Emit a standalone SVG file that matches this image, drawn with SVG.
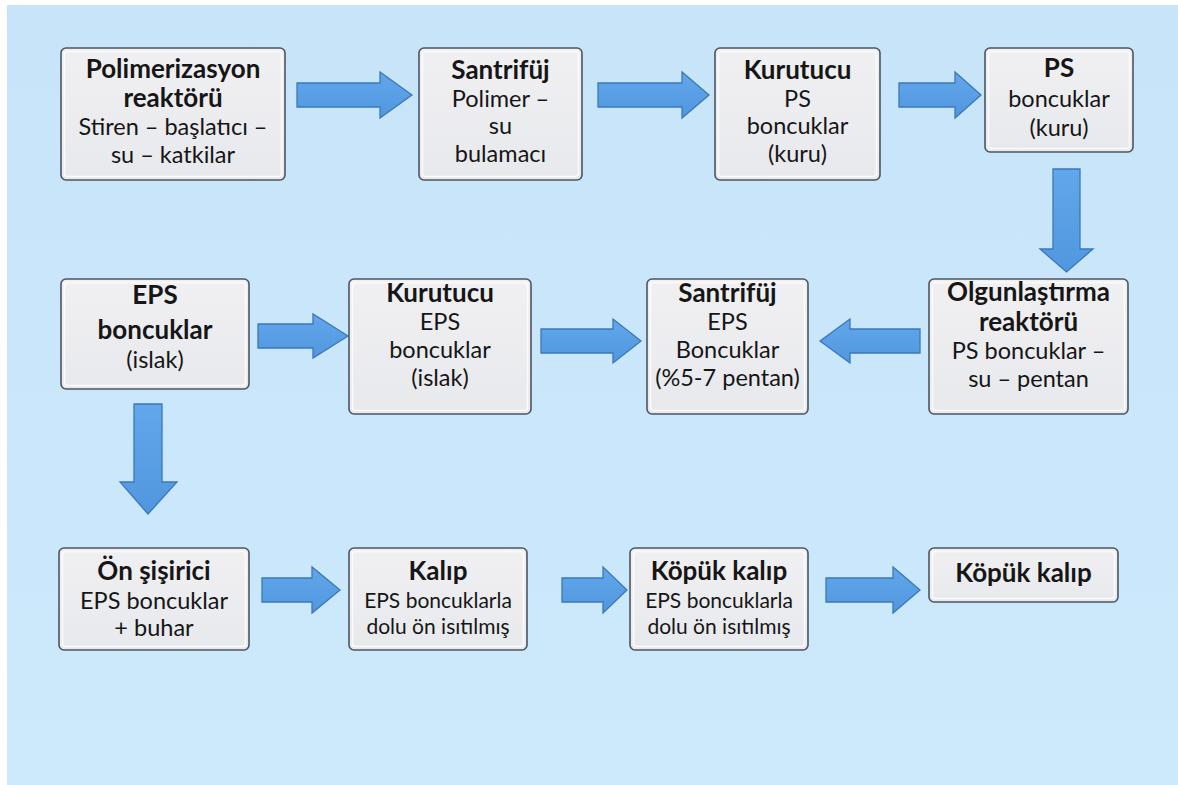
<svg xmlns="http://www.w3.org/2000/svg" width="1178" height="785" viewBox="0 0 1178 785">
  <defs>
    <linearGradient id="bg" x1="0" y1="0" x2="0" y2="1">
      <stop offset="0" stop-color="#c7e4f9"/>
      <stop offset="1" stop-color="#cde9fc"/>
    </linearGradient>
    <linearGradient id="box" x1="0" y1="0" x2="0" y2="1">
      <stop offset="0" stop-color="#f0f0f3"/>
      <stop offset="1" stop-color="#e8e9ec"/>
    </linearGradient>
    <linearGradient id="arr" x1="0" y1="0" x2="0" y2="1">
      <stop offset="0" stop-color="#62a7ec"/>
      <stop offset="1" stop-color="#5197dd"/>
    </linearGradient>
  </defs>
  <style>
    .outer { fill: url(#box); stroke: #4d5562; stroke-width: 1.6; }
    .inner { fill: none; stroke: #fbfbfc; stroke-width: 1.5; }
    .t { font-family: Lato, "Liberation Sans", sans-serif; fill: #161616; text-anchor: middle; }
    .b { font-weight: bold; font-size: 26px; }
    .r { font-size: 23.5px; }
    .s { font-size: 21px; }
    .arrow { fill: url(#arr); stroke: #3a78bc; stroke-width: 1.3; stroke-linejoin: miter; }
  </style>
  <rect x="0" y="0" width="1178" height="785" fill="#ffffff"/>
  <rect x="7" y="5" width="1171" height="780" fill="url(#bg)"/>

  <g id="connectors">
    <path class="arrow" d="M297,83 H380 V72 L412,95 L380,118 V107 H297 Z"/>
    <path class="arrow" d="M598,83 H682 V72 L709,95 L682,118 V107 H598 Z"/>
    <path class="arrow" d="M899,83 H955 V72 L981,95 L955,118 V107 H899 Z"/>
    <path class="arrow" d="M1053,169 H1080 V249 H1093 L1066.5,272 L1040,249 H1053 Z"/>
    <path class="arrow" d="M258,324 H313 V314 L348,336 L313,358 V348 H258 Z"/>
    <path class="arrow" d="M541,329 H613 V319 L641,341 L613,363 V353 H541 Z"/>
    <path class="arrow" d="M920,329 H850 V319 L820,341 L850,363 V353 H920 Z"/>
    <path class="arrow" d="M134,404 H162 V482 H177 L148,514 L120,482 H134 Z"/>
    <path class="arrow" d="M262,578 H312 V567 L340,590 L312,613 V602 H262 Z"/>
    <path class="arrow" d="M562,578 H603 V567 L627,590 L603,613 V602 H562 Z"/>
    <path class="arrow" d="M826,578 H893 V567 L920,590 L893,613 V602 H826 Z"/>
  </g>

  <g id="n1">
    <rect class="outer" x="61" y="48" width="224" height="132" rx="5"/>
    <rect class="inner" x="64.5" y="51.5" width="217" height="125" rx="3"/>
    <text class="t b" x="173" y="78" font-size="27">Polimerizasyon</text>
    <text class="t b" x="173" y="107" font-size="27">reaktörü</text>
    <text class="t r" x="173" y="135">Stiren – başlatıcı –</text>
    <text class="t r" x="173" y="163">su – katkilar</text>
  </g>
  <g id="n2">
    <rect class="outer" x="419" y="48" width="163" height="132" rx="5"/>
    <rect class="inner" x="422.5" y="51.5" width="156" height="125" rx="3"/>
    <text class="t b" x="500.5" y="79" font-size="27">Santrifüj</text>
    <text class="t r" x="500.5" y="107" font-size="24.5">Polimer –</text>
    <text class="t r" x="500.5" y="134" font-size="24.5">su</text>
    <text class="t r" x="500.5" y="162" font-size="24.5">bulamacı</text>
  </g>
  <g id="n3">
    <rect class="outer" x="715" y="48" width="165" height="132" rx="5"/>
    <rect class="inner" x="718.5" y="51.5" width="158" height="125" rx="3"/>
    <text class="t b" x="797.5" y="79" font-size="24.5">Kurutucu</text>
    <text class="t r" x="797.5" y="107">PS</text>
    <text class="t r" x="797.5" y="134">boncuklar</text>
    <text class="t r" x="797.5" y="162">(kuru)</text>
  </g>
  <g id="n4">
    <rect class="outer" x="985" y="48" width="148" height="104" rx="5"/>
    <rect class="inner" x="988.5" y="51.5" width="141" height="97" rx="3"/>
    <text class="t b" x="1059" y="77" font-size="27">PS</text>
    <text class="t r" x="1059" y="107" font-size="24">boncuklar</text>
    <text class="t r" x="1059" y="136" font-size="24">(kuru)</text>
  </g>
  <g id="n5">
    <rect class="outer" x="61" y="279" width="188" height="110" rx="5"/>
    <rect class="inner" x="64.5" y="282.5" width="181" height="103" rx="3"/>
    <text class="t b" x="155" y="304" font-size="27">EPS</text>
    <text class="t b" x="155" y="339" font-size="27">boncuklar</text>
    <text class="t r" x="155" y="368" font-size="26">(islak)</text>
  </g>
  <g id="n6">
    <rect class="outer" x="349" y="279" width="182" height="135" rx="5"/>
    <rect class="inner" x="352.5" y="282.5" width="175" height="128" rx="3"/>
    <text class="t b" x="440" y="302" font-size="27">Kurutucu</text>
    <text class="t r" x="440" y="330" font-size="24.5">EPS</text>
    <text class="t r" x="440" y="358" font-size="24.5">boncuklar</text>
    <text class="t r" x="440" y="386" font-size="24.5">(islak)</text>
  </g>
  <g id="n7">
    <rect class="outer" x="647" y="279" width="161" height="135" rx="5"/>
    <rect class="inner" x="650.5" y="282.5" width="154" height="128" rx="3"/>
    <text class="t b" x="727.5" y="302" font-size="27">Santrifüj</text>
    <text class="t r" x="727.5" y="330" font-size="24.5">EPS</text>
    <text class="t r" x="727.5" y="358" font-size="24.5">Boncuklar</text>
    <text class="t r" x="727.5" y="386" font-size="24.5">(%5-7 pentan)</text>
  </g>
  <g id="n8">
    <rect class="outer" x="929" y="279" width="199" height="135" rx="5"/>
    <rect class="inner" x="932.5" y="282.5" width="192" height="128" rx="3"/>
    <text class="t b" x="1028.5" y="301" font-size="26.5">Olgunlaştırma</text>
    <text class="t b" x="1028.5" y="331" font-size="25">reaktörü</text>
    <text class="t r" x="1028.5" y="359" font-size="25">PS boncuklar –</text>
    <text class="t r" x="1028.5" y="387" font-size="25">su – pentan</text>
  </g>
  <g id="n9">
    <rect class="outer" x="59" y="548" width="190" height="102" rx="5"/>
    <rect class="inner" x="62.5" y="551.5" width="183" height="95" rx="3"/>
    <text class="t b" x="154" y="580" font-size="24.5">Ön şişirici</text>
    <text class="t r" x="154" y="609">EPS boncuklar</text>
    <text class="t r" x="154" y="636">+ buhar</text>
  </g>
  <g id="n10">
    <rect class="outer" x="349" y="548" width="178" height="102" rx="5"/>
    <rect class="inner" x="352.5" y="551.5" width="171" height="95" rx="3"/>
    <text class="t b" x="438" y="580">Kalıp</text>
    <text class="t s" x="438" y="608">EPS boncuklarla</text>
    <text class="t s" x="438" y="634">dolu ön isıtılmış</text>
  </g>
  <g id="n11">
    <rect class="outer" x="630" y="548" width="178" height="102" rx="5"/>
    <rect class="inner" x="633.5" y="551.5" width="171" height="95" rx="3"/>
    <text class="t b" x="719" y="580">Köpük kalıp</text>
    <text class="t s" x="719" y="608">EPS boncuklarla</text>
    <text class="t s" x="719" y="634">dolu ön isıtılmış</text>
  </g>
  <g id="n12">
    <rect class="outer" x="929" y="548" width="189" height="54" rx="5"/>
    <rect class="inner" x="932.5" y="551.5" width="182" height="47" rx="3"/>
    <text class="t b" x="1023.5" y="582" font-size="24.5">Köpük kalıp</text>
  </g>
</svg>
